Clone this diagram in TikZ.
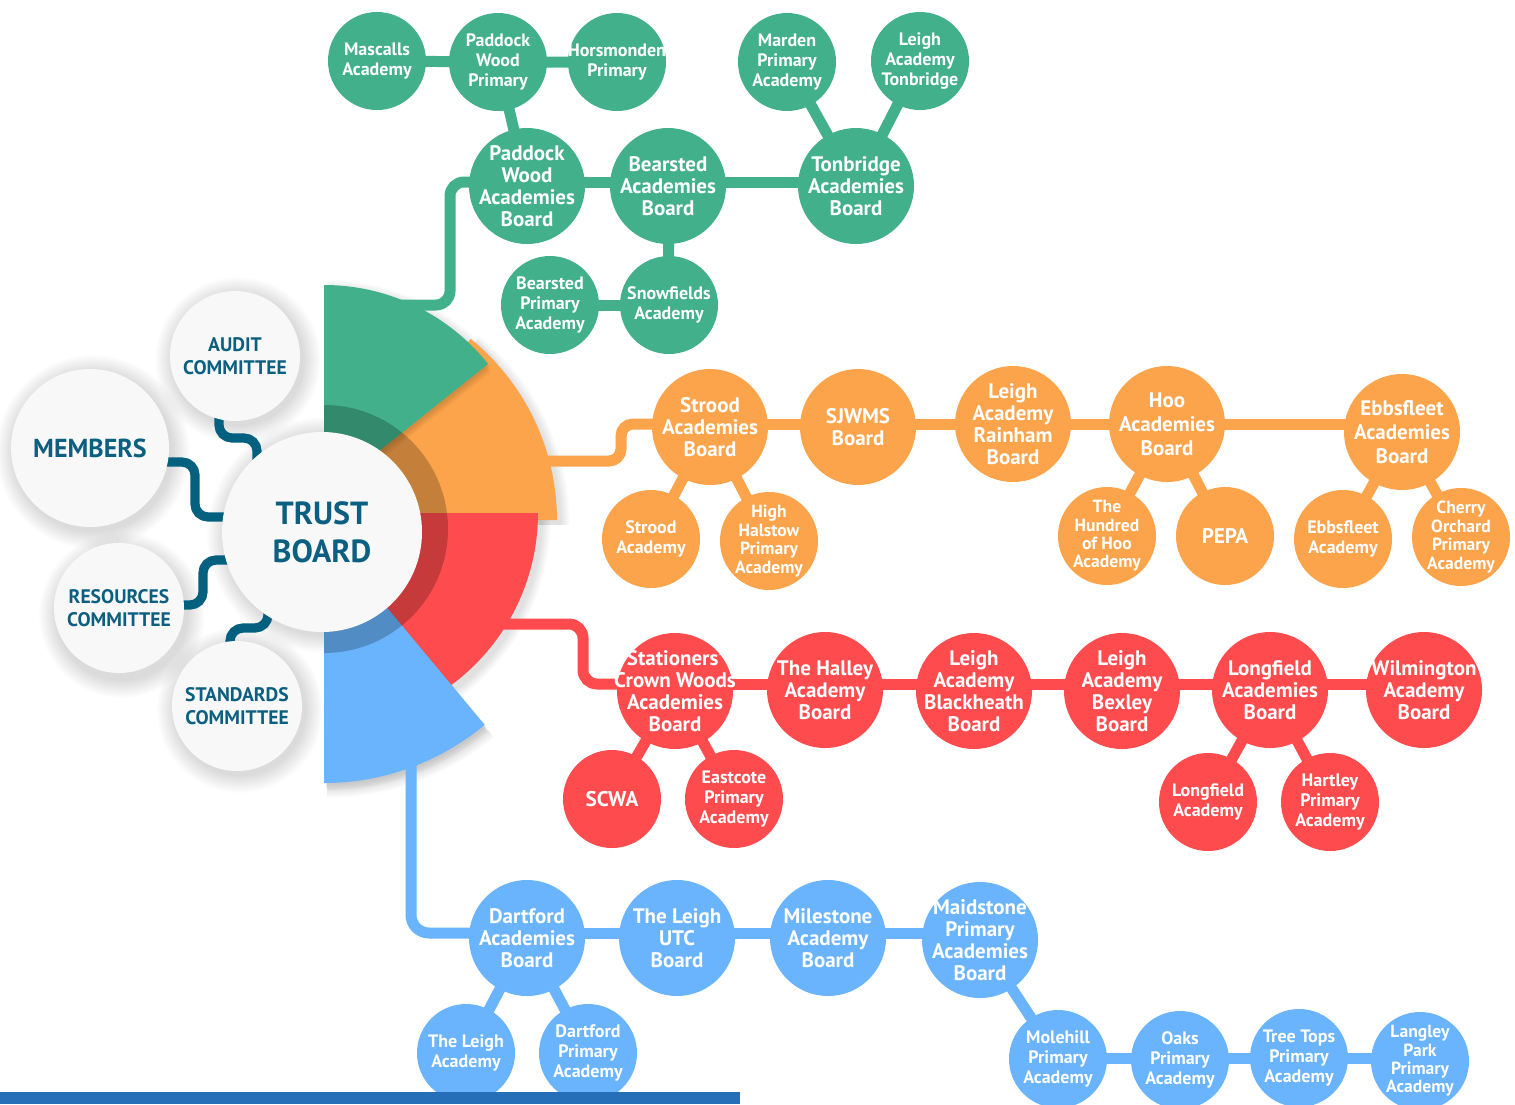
\documentclass[tikz,border=0pt]{standalone}
\usepackage{fontspec}
\setmainfont{PT Sans}[Ligatures=TeX]
\pgfdeclarelayer{shad}
\pgfdeclarelayer{sect}
\pgfdeclarelayer{lines}
\pgfsetlayers{shad,sect,lines,main}
\definecolor{cgreen}{RGB}{66,176,138}
\definecolor{corange}{RGB}{252,164,75}
\definecolor{cred}{RGB}{254,75,78}
\definecolor{cblue}{RGB}{106,180,253}
\definecolor{cteal}{RGB}{4,96,127}
\definecolor{cteal2}{RGB}{12,95,128}
\definecolor{cbar}{RGB}{36,111,184}
\definecolor{cwhite}{RGB}{248,248,248}
\newcommand\sectfill[6]{\fill[#1] (#2,#3) -- plot[domain=#5:#6,samples=60] ({#2+(#4)*cos(\x)},{#3-(#4)*sin(\x)}) -- cycle;}
\tikzset{
  leafn/.style={circle, fill=#1, text=white, align=center, inner sep=-20pt, minimum size=49pt, font=\bfseries\fontsize{9}{9.8}\selectfont},
  boardn/.style={circle, fill=#1, text=white, align=center, inner sep=-20pt, minimum size=58pt, font=\bfseries\fontsize{10.5}{11}\selectfont},
  leaffour/.style={font=\bfseries\fontsize{8.8}{9.2}\selectfont},
  bigone/.style={font=\bfseries\fontsize{10.6}{11}\selectfont},
  wideboard/.style={font=\bfseries\fontsize{10.5}{12}\selectfont},
  lnk/.style={line width=5.5pt, draw=#1},
  comm/.style={circle, fill=cwhite, text=cteal2, align=center, inner sep=-20pt, font=\bfseries\fontsize{9.8}{11.5}\selectfont},
  comline/.style={draw=cteal, line width=4.6pt, rounded corners=6.5pt},
}
\begin{document}
\begin{tikzpicture}[x=0.5pt,y=-0.5pt]
\useasboundingbox (0,0) rectangle (1515,1104);

% ---------- background and shadows ----------
\begin{pgfonlayer}{shad}
\fill[white] (0,0) rectangle (1515,1104);
\foreach \cx/\cy/\r in {235/355/65, 90/447/79, 119/610/65, 237/705/65, 322/530/100}{
  \foreach \k in {1,...,18}{
    \pgfmathsetmacro\rr{\r+\k}
    \fill[black,opacity=0.008] (\cx+3,\cy+5) circle[radius=\rr];
  }
}
\foreach \k in {1,...,10}{
  \sectfill{black,opacity=0.012}{327}{500}{210+\k}{38.6}{90}
  \sectfill{black,opacity=0.012}{327}{525}{233+\k}{0}{51}
  \sectfill{black,opacity=0.012}{327}{518}{214+\k}{-60}{0}
  \sectfill{black,opacity=0.012}{327}{537}{251+\k}{-90}{-50.2}
}
\end{pgfonlayer}

% ---------- sectors ----------
\begin{pgfonlayer}{sect}
\sectfill{corange}{324}{520}{233}{0}{51}
\sectfill{cred}{324}{513}{214}{-60}{0}
\foreach \k in {1,...,5}{
  \sectfill{black,opacity=0.02}{326}{532+\k*1.5}{251}{-90}{-50.2}
}
\sectfill{cblue}{324}{532}{251}{-90}{-50.2}
\foreach \k in {1,...,6}{
  \sectfill{black,opacity=0.025}{326}{495+\k*1.5}{210}{38.6}{90}
}
\sectfill{cgreen}{324}{495}{210}{38.6}{90}
\begin{scope}
  \clip (324,380) rectangle (470,680);
  \fill[black,opacity=0.22] (324,529) circle[radius=124];
\end{scope}
\end{pgfonlayer}

% ---------- committee and trust circles ----------
\node[comm, minimum size=65pt] (audit) at (235,356) {AUDIT\\COMMITTEE};
\node[comm, minimum size=79pt, font=\bfseries\fontsize{13}{15}\selectfont] (members) at (90,448) {MEMBERS};
\node[comm, minimum size=65pt] (resources) at (119,608) {RESOURCES\\COMMITTEE};
\node[comm, minimum size=65pt] (standards) at (237,706) {STANDARDS\\COMMITTEE};
\node[comm, minimum size=100pt, font=\bfseries\fontsize{16}{19}\selectfont] (trust) at (322,532) {TRUST\\BOARD};

% ---------- green branch ----------
\node[leafn=cgreen] (mascalls) at (377,61) {Mascalls\\Academy};
\node[leafn=cgreen] (pwp) at (498,62) {Paddock\\Wood\\Primary};
\node[leafn=cgreen] (horsm) at (617,62) {Horsmonden\\Primary};
\node[leafn=cgreen] (marden) at (787,62) {Marden\\Primary\\Academy};
\node[leafn=cgreen] (leight) at (920,61) {Leigh\\Academy\\Tonbridge};
\node[boardn=cgreen] (pwab) at (527,186) {Paddock\\Wood\\Academies\\Board};
\node[boardn=cgreen] (bab) at (668,186) {Bearsted\\Academies\\Board};
\node[boardn=cgreen] (tab) at (856,186) {Tonbridge\\Academies\\Board};
\node[leafn=cgreen] (bpa) at (550,305) {Bearsted\\Primary\\Academy};
\node[leafn=cgreen] (snow) at (669,305) {Snowfields\\Academy};

% ---------- orange branch ----------
\node[boardn=corange] (sab) at (710,427) {Strood\\Academies\\Board};
\node[boardn=corange] (sjwms) at (858,427) {SJWMS\\Board};
\node[boardn=corange] (lar) at (1013,424) {Leigh\\Academy\\Rainham\\Board};
\node[boardn=corange, wideboard] (hab) at (1167,424) {Hoo\\Academies\\Board};
\node[boardn=corange, wideboard] (eab) at (1402,432) {Ebbsfleet\\Academies\\Board};
\node[leafn=corange] (stra) at (651,539) {Strood\\Academy};
\node[leafn=corange, leaffour] (hhpa) at (769,541) {High\\Halstow\\Primary\\Academy};
\node[leafn=corange, leaffour] (hoo) at (1107,536) {The\\Hundred\\of Hoo\\Academy};
\node[leafn=corange, bigone] (pepa) at (1225,536) {PEPA};
\node[leafn=corange] (ebba) at (1343,539) {Ebbsfleet\\Academy};
\node[leafn=corange, leaffour] (cherry) at (1461,537) {Cherry\\Orchard\\Primary\\Academy};

% ---------- red branch ----------
\node[boardn=cred] (scw) at (675,691) {Stationers'\\Crown Woods\\Academies\\Board};
\node[boardn=cred] (halley) at (825,690) {The Halley\\Academy\\Board};
\node[boardn=cred] (lab) at (974,691) {Leigh\\Academy\\Blackheath\\Board};
\node[boardn=cred] (lbx) at (1122,691) {Leigh\\Academy\\Bexley\\Board};
\node[boardn=cred] (lfab) at (1270,690) {Longfield\\Academies\\Board};
\node[boardn=cred] (wil) at (1424,690) {Wilmington\\Academy\\Board};
\node[leafn=cred, bigone] (scwa) at (612,799) {SCWA};
\node[leafn=cred] (east) at (734,799) {Eastcote\\Primary\\Academy};
\node[leafn=cred] (lfa) at (1208,802) {Longfield\\Academy};
\node[leafn=cred] (hart) at (1330,802) {Hartley\\Primary\\Academy};

% ---------- blue branch ----------
\node[boardn=cblue] (dab) at (527,938) {Dartford\\Academies\\Board};
\node[boardn=cblue] (utc) at (677,938) {The Leigh\\UTC\\Board};
\node[boardn=cblue] (mil) at (828,938) {Milestone\\Academy\\Board};
\node[boardn=cblue] (mpab) at (980,940) {Maidstone\\Primary\\Academies\\Board};
\node[leafn=cblue] (tla) at (466,1053) {The Leigh\\Academy};
\node[leafn=cblue] (dpa) at (588,1053) {Dartford\\Primary\\Academy};
\node[leafn=cblue] (mole) at (1058,1059) {Molehill\\Primary\\Academy};
\node[leafn=cblue] (oaks) at (1180,1060) {Oaks\\Primary\\Academy};
\node[leafn=cblue] (tree) at (1299,1058) {Tree Tops\\Primary\\Academy};
\node[leafn=cblue, leaffour] (lang) at (1420,1061) {Langley\\Park\\Primary\\Academy};

% ---------- start points of the trunks ----------
\coordinate (gs) at (400,305);
\coordinate (os) at (540,461);
\coordinate (rs) at (495,624);
\coordinate (bs) at (411,750);

% ---------- connectors ----------
\begin{pgfonlayer}{lines}
% committees
\draw[comline] (audit.center) ++(-16,0) -- ++(0,82) -- ++(38,0) -- ++(0,45);
\draw[comline] (members.center) ++(0,14) -- ++(105,0) -- ++(0,55) -- ++(60,0);
\draw[comline] (resources.center) ++(0,-3) -- ++(84,0) -- ++(0,-45) -- ++(50,0);
\draw[comline] (standards.center) ++(-7,0) -- ++(0,-78) -- ++(38,0) -- ++(0,-30);
% trunks
\draw[lnk=cgreen, rounded corners=7pt] (gs) -- (450,305) -- (450,182) -- (pwab.center |- 0,182);
\draw[lnk=corange, rounded corners=6pt] (os) -- (621,461) -- (621,424) -- (sab.center |- 0,424);
\draw[lnk=cred, rounded corners=7pt] (rs) -- (583,624) -- (583,684) -- (scw.center |- 0,684);
\draw[lnk=cblue, rounded corners=9pt] (bs) -- (411,933) -- (dab.center |- 0,933);
% green
\draw[lnk=cgreen] (mascalls.center) -- (pwp.center) -- (horsm.center);
\draw[lnk=cgreen] (pwp.center) -- (pwab.center);
\draw[lnk=cgreen] (pwab.center |- 0,182) -- (tab.center |- 0,182);
\draw[lnk=cgreen] (marden.center) -- (tab.center);
\draw[lnk=cgreen] (leight.center) -- (tab.center);
\draw[lnk=cgreen] (bab.center) -- (snow.center);
\draw[lnk=cgreen] (bpa.center) -- (snow.center);
% orange
\draw[lnk=corange] (sab.center |- 0,424) -- (eab.center |- 0,424);
\draw[lnk=corange] (sab.center) -- (stra.center);
\draw[lnk=corange] (sab.center) -- (hhpa.center);
\draw[lnk=corange] (hab.center) -- (hoo.center);
\draw[lnk=corange] (hab.center) -- (pepa.center);
\draw[lnk=corange] (eab.center) -- (ebba.center);
\draw[lnk=corange] (eab.center) -- (cherry.center);
% red
\draw[lnk=cred] (scw.center |- 0,684) -- (wil.center |- 0,684);
\draw[lnk=cred] (scw.center) -- (scwa.center);
\draw[lnk=cred] (scw.center) -- (east.center);
\draw[lnk=cred] (lfab.center) -- (lfa.center);
\draw[lnk=cred] (lfab.center) -- (hart.center);
% blue
\draw[lnk=cblue] (dab.center |- 0,933) -- (mpab.center |- 0,933);
\draw[lnk=cblue] (dab.center) -- (tla.center);
\draw[lnk=cblue] (dab.center) -- (dpa.center);
\draw[lnk=cblue] (mpab.center) -- (mole.center);
\draw[lnk=cblue] (mole.center |- 0,1058) -- (lang.center |- 0,1058);
\end{pgfonlayer}

% ---------- bottom bar ----------
\fill[cbar] (0,1092) rectangle (740,1104);
\end{tikzpicture}
\end{document}
